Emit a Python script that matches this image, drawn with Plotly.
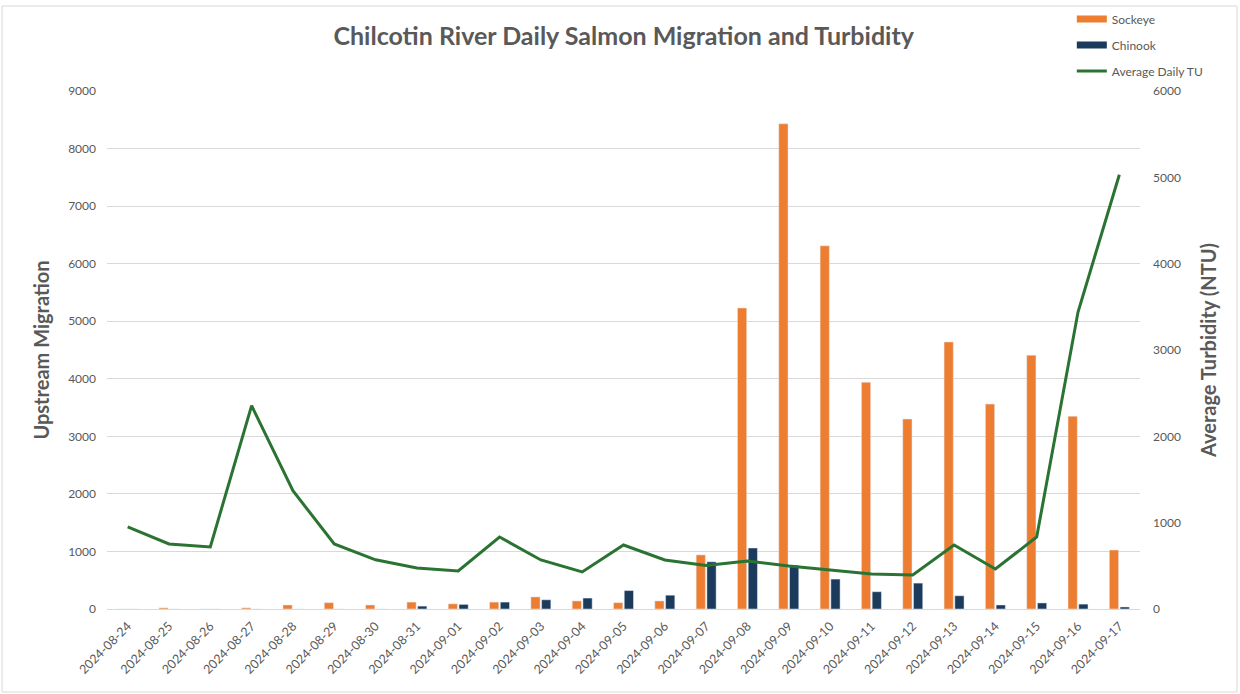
import plotly.graph_objects as go

# Daily counts and turbidity, Chilcotin River
dates = ["2024-08-24", "2024-08-25", "2024-08-26", "2024-08-27", "2024-08-28",
         "2024-08-29", "2024-08-30", "2024-08-31", "2024-09-01", "2024-09-02",
         "2024-09-03", "2024-09-04", "2024-09-05", "2024-09-06", "2024-09-07",
         "2024-09-08", "2024-09-09", "2024-09-10", "2024-09-11", "2024-09-12",
         "2024-09-13", "2024-09-14", "2024-09-15", "2024-09-16", "2024-09-17"]

sockeye = [0, 20, 0, 20, 70, 110, 70, 120, 90, 120, 210, 140, 110, 140, 940,
           5230, 8430, 6310, 3940, 3300, 4640, 3560, 4410, 3350, 1025]

chinook = [0, 0, 0, 0, 0, 0, 0, 50, 80, 120, 160, 190, 320, 240, 820,
           1060, 760, 520, 300, 450, 230, 70, 105, 85, 35]

turbidity = [950, 753, 718, 2355, 1370, 753, 570, 475, 440, 834, 568, 429, 741,
             568, 505, 556, 498, 452, 405, 394, 741, 463, 834, 3440, 5030]

left_ticks = [0, 1000, 2000, 3000, 4000, 5000, 6000, 7000, 8000, 9000]
right_ticks = [0, 1000, 2000, 3000, 4000, 5000, 6000]

GRAY = "#595959"
FONT = "Lato"
ORANGE = "#ED7D31"
NAVY = "#1B3A5C"
GREEN = "#2A7332"

fig = go.Figure()
fig.add_trace(go.Bar(x=dates, y=sockeye, name="Sockeye", marker_color=ORANGE,
                     showlegend=False))
fig.add_trace(go.Bar(x=dates, y=chinook, name="Chinook", marker_color=NAVY,
                     showlegend=False))
fig.add_trace(go.Scatter(x=dates, y=turbidity, name="Average Daily TU", mode="lines",
                         line=dict(color=GREEN, width=3), yaxis="y2", showlegend=False))

# Legend keys drawn as wide swatches (legend-only entries)
for name, color, width in [("Sockeye", ORANGE, 7), ("Chinook", NAVY, 7),
                           ("Average Daily TU", GREEN, 3)]:
    fig.add_trace(go.Scatter(x=[None], y=[None], name=name, mode="lines",
                             legendgroup=name,
                             line=dict(color=color, width=width)))

fig.update_layout(
    width=1240, height=694,
    margin=dict(l=107, r=100, t=91, b=85, autoexpand=False),
    paper_bgcolor="white", plot_bgcolor="white",
    font=dict(family=FONT, color=GRAY, size=12),
    title=dict(text="<b>Chilcotin River Daily Salmon Migration and Turbidity</b>",
               x=0.503, xanchor="center", y=0.948, yanchor="middle",
               font=dict(family=FONT, size=25, color=GRAY)),
    barmode="group", bargap=0.48, bargroupgap=0.14,
    xaxis=dict(type="category", tickangle=-45, tickfont=dict(size=12.5, color=GRAY),
               showgrid=False, showline=True, linecolor="#D9D9D9", ticks="",
               ticklabelstandoff=4, automargin=False),
    yaxis=dict(range=[0, 9000], tickvals=left_ticks, showgrid=True, gridcolor="#D9D9D9",
               zeroline=False, ticks="", tickfont=dict(size=12, color=GRAY),
               ticklabelstandoff=10,
               title=dict(text="<b>Upstream Migration</b>", font=dict(size=20, color=GRAY),
                          standoff=13),
               automargin=False),
    yaxis2=dict(range=[0, 6000], tickvals=right_ticks, overlaying="y", side="right",
                showgrid=False, zeroline=False, ticks="", tickfont=dict(size=12, color=GRAY),
                ticklabelstandoff=12,
                title=dict(text="<b>Average Turbidity (NTU)</b>", font=dict(size=20, color=GRAY),
                           standoff=22),
                automargin=False),
    legend=dict(x=0.934, y=1.167, xanchor="left", yanchor="top", orientation="v",
                font=dict(size=12, color=GRAY), tracegroupgap=7, itemwidth=30,
                bgcolor="rgba(0,0,0,0)"),
    shapes=[dict(type="rect", xref="paper", yref="paper",
                 x0=-0.1016, x1=1.0939, y0=-0.1602, y1=1.1641,
                 line=dict(color="#D9D9D9", width=1), fillcolor="rgba(0,0,0,0)",
                 layer="below")],
)

fig.write_html("out.html")
